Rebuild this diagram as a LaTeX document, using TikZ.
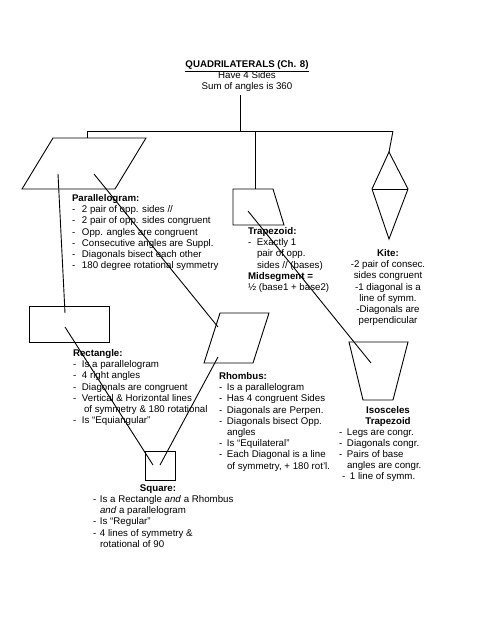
\documentclass[tikz,border=0pt]{standalone}
\usepackage{fontspec}
\setmainfont{Liberation Sans}
\newcommand{\myd}[1][9]{\makebox[#1pt][l]{-}}
\tikzset{
  shp/.style={draw=black, line width=0.9pt, line join=miter},
  conn/.style={draw=black, line width=0.9pt},
  txt/.style={inner sep=0pt, outer sep=0pt, font=\fontsize{9.7}{11.2}\selectfont, align=left, anchor=north west},
  ctxt/.style={txt, align=center, anchor=north},
}
\begin{document}
\begin{tikzpicture}[x=1pt,y=-1pt]
\useasboundingbox (0,0) rectangle (495,640);
\fill[white] (0,0) rectangle (495,640);

% title
\node[ctxt] (title) at (247,60.4) {\textbf{\underline{QUADRILATERALS (Ch. 8)}}\\Have 4 Sides\\Sum of angles is 360};

% tree coordinates
\coordinate (t0) at (240,95);
\coordinate (hub) at (240,131);
\coordinate (hl) at (87,131);
\coordinate (hr) at (393,131);
\coordinate (pgt) at (87,138);
\coordinate (tzh) at (255,131);
\coordinate (tzt) at (255,189);
\coordinate (kt) at (389,152);

\draw[conn] (t0) -- (hub);
\draw[conn] (hl) -- (hr);
\draw[conn] (hl) -- (pgt);
\draw[conn] (tzh) -- (tzt);
\draw[conn] (hr) -- (kt);

% shapes
\draw[shp] (53,138) -- (146,138) -- (115,189) -- (22,189) -- cycle; % parallelogram
\draw[shp] (233,189) -- (273,189) -- (284,225) -- (233,225) -- cycle; % trapezoid
\draw[shp] (389,152) -- (408,189) -- (389,239) -- (372,189) -- cycle; % kite
\draw[shp] (372,189) -- (408,189);
\draw[shp] (29,306) rectangle (109,342); % rectangle
\draw[shp] (220,313) -- (269,313) -- (253,363) -- (204,363) -- cycle; % rhombus
\draw[shp] (349,342) -- (408,342) -- (393,400) -- (363,400) -- cycle; % isosceles trapezoid
\draw[shp] (145,451) rectangle (175,480); % square

% connector endpoints
\coordinate (pgA) at (58,174);
\coordinate (pgB) at (94,174);
\coordinate (reA) at (65,313);
\coordinate (reB) at (65,327);
\coordinate (rhA) at (218,327);
\coordinate (rhB) at (218,357);
\coordinate (sqA) at (153,465);
\coordinate (sqB) at (160,465);
\coordinate (tzA) at (248,211);
\coordinate (itA) at (371,363);

\draw[conn] (pgA) -- (reA);
\draw[conn] (pgB) -- (rhA);
\draw[conn] (reB) -- (sqA);
\draw[conn] (rhB) -- (sqB);
\draw[conn] (tzA) -- (itA);

% texts
\node[txt] (pgtext) at (72,194.4) {\textbf{Parallelogram:}\\
\myd[10]2 pair of opp. sides //\\
\myd[10]2 pair of opp. sides congruent\\
\myd[10]Opp. angles are congruent\\
\myd[10]Consecutive angles are Suppl.\\
\myd[10]Diagonals bisect each other\\
\myd[10]180 degree rotational symmetry};

\node[txt] (tztext) at (248,227.4) {\textbf{Trapezoid:}\\
\myd Exactly 1\\
\hspace*{9pt}pair of opp.\\
\hspace*{9pt}sides // (bases)\\
\textbf{Midsegment =}\\
½ (base1 + base2)};

\node[ctxt] (kitext) at (388,249.4) {\textbf{Kite:}\\-2 pair of consec.\\sides congruent\\-1 diagonal is a\\line of symm.\\-Diagonals are\\perpendicular};

\node[txt] (retext) at (73,349.4) {\textbf{Rectangle:}\\
\myd Is a parallelogram\\
\myd 4 right angles\\
\myd Diagonals are congruent\\
\myd Vertical \& Horizontal lines\\
\hspace*{11pt}of symmetry \& 180 rotational\\
\myd Is “Equiangular”};

\node[txt] (rhtext) at (219,372.4) {\textbf{Rhombus:}\\
\myd[8]Is a parallelogram\\
\myd[8]Has 4 congruent Sides\\
\myd[8]Diagonals are Perpen.\\
\myd[8]Diagonals bisect Opp.\\
\hspace*{8pt}angles\\
\myd[8]Is “Equilateral”\\
\myd[8]Each Diagonal is a line\\
\hspace*{8pt}of symmetry, + 180 rot'l.};

\node[ctxt] (ithead) at (388,406.4) {\textbf{Isosceles}\\\textbf{Trapezoid}};
\node[txt] (ittext) at (339,428.4) {\myd[8]Legs are congr.\\
\myd[8]Diagonals congr.\\
\myd[8]Pairs of base\\
\hspace*{8pt}angles are congr.\\
\hspace*{3pt}\myd[8]1 line of symm.};

\node[ctxt] (sqhead) at (158,484.4) {\textbf{Square:}};
\node[txt] (sqtext) at (93,495.4) {\myd[7]Is a Rectangle \textit{and} a Rhombus\\
\hspace*{7pt}\textit{and} a parallelogram\\
\myd[7]Is “Regular”\\
\myd[7]4 lines of symmetry \&\\
\hspace*{7pt}rotational of 90};
\end{tikzpicture}
\end{document}
